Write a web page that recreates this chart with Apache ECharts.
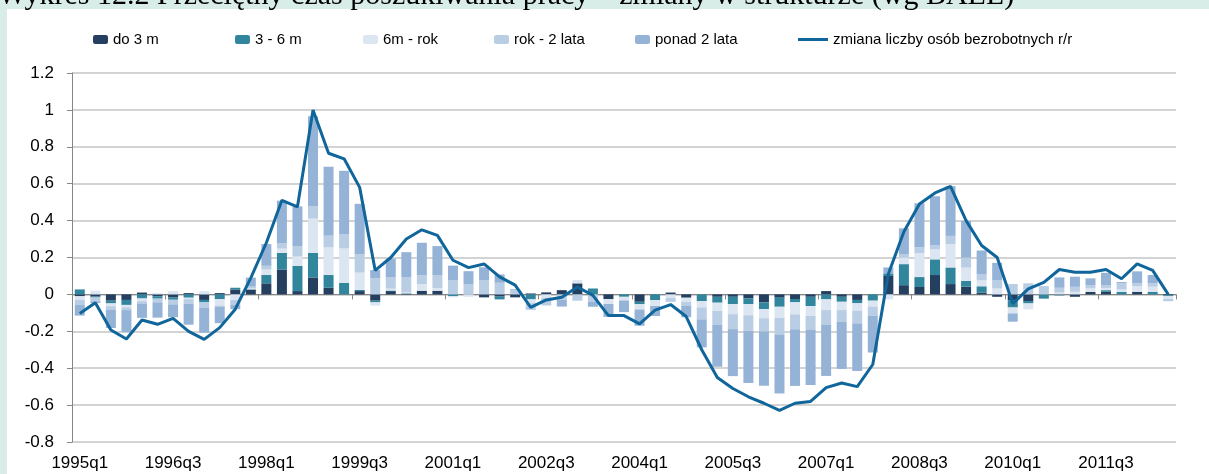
<!DOCTYPE html>
<html>
<head>
<meta charset="utf-8">
<script src="https://cdn.jsdelivr.net/npm/echarts@6/dist/echarts.min.js"></script>
<style>
html, body { margin: 0; padding: 0; background: #fff; }
#chart { width: 1209px; height: 474px; }
</style>
</head>
<body>
<div id="chart"></div>
<script>
// kwartały 1995q1 - 2012q3
const quarters = [
  '1995q1','1995q2','1995q3','1995q4','1996q1','1996q2','1996q3','1996q4',
  '1997q1','1997q2','1997q3','1997q4','1998q1','1998q2','1998q3','1998q4',
  '1999q1','1999q2','1999q3','1999q4','2000q1','2000q2','2000q3','2000q4',
  '2001q1','2001q2','2001q3','2001q4','2002q1','2002q2','2002q3','2002q4',
  '2003q1','2003q2','2003q3','2003q4','2004q1','2004q2','2004q3','2004q4',
  '2005q1','2005q2','2005q3','2005q4','2006q1','2006q2','2006q3','2006q4',
  '2007q1','2007q2','2007q3','2007q4','2008q1','2008q2','2008q3','2008q4',
  '2009q1','2009q2','2009q3','2009q4','2010q1','2010q2','2010q3','2010q4',
  '2011q1','2011q2','2011q3','2011q4','2012q1','2012q2','2012q3'
];

const do3m = [-0.01,-0.012,-0.034,-0.03,0.01,-0.01,-0.017,0.007,-0.03,0.007,
  0.027,0.027,0.06,0.135,0.018,0.092,0.036,0,0.018,-0.034,
  0.018,0.003,0.02,0.02,0,0,-0.016,-0.012,-0.016,0.005,
  0.011,0.023,0.06,0,-0.025,0,-0.04,0,0.01,-0.018,
  0,-0.013,-0.013,-0.022,-0.043,-0.018,-0.025,-0.013,0.018,-0.013,
  -0.03,0,0.1,0.05,0.04,0.105,0.056,0.042,0.01,-0.013,
  -0.031,-0.036,0,-0.003,-0.013,0.013,0.014,0,0.014,0,-0.005];

const m3to6 = [0.027,-0.005,-0.015,-0.027,-0.022,-0.013,-0.012,-0.018,-0.013,-0.025,
  0.009,0,0.045,0.09,0.137,0.133,0.069,0.063,0.006,-0.009,
  0.003,0.003,0,0,-0.01,0,0,-0.015,0,-0.027,
  0,0,0,0.032,0,-0.013,-0.013,-0.031,0,0,
  -0.036,-0.032,-0.04,-0.031,-0.036,-0.049,-0.018,-0.05,-0.027,-0.027,
  -0.018,-0.034,0.014,0.114,0.054,0.085,0.09,0.031,0.034,0,
  -0.04,-0.013,-0.023,-0.003,0,0,0.009,0.013,0,0.013,-0.005];

const m6toYear = [-0.02,0.02,-0.015,-0.013,-0.015,0.007,0.018,-0.008,0.018,-0.035,
  -0.03,0.005,0.03,0.023,0.05,0.186,0.15,0.186,0.094,-0.018,
  0.01,0.005,0.035,0.015,-0.006,-0.013,0,0,0,-0.02,
  -0.02,0,0.018,0,-0.027,-0.02,-0.029,-0.032,-0.02,-0.022,
  -0.034,-0.045,-0.054,-0.06,-0.05,-0.06,-0.065,-0.054,-0.058,-0.045,
  -0.04,-0.032,-0.027,0.035,0.13,0.054,0.126,0.072,0.032,0.032,
  -0.032,-0.032,0,0.01,0.014,0.02,0.012,0.014,0.03,0.029,-0.015];

const year1to2 = [-0.025,-0.02,-0.018,-0.015,-0.015,-0.02,-0.025,-0.025,-0.03,-0.008,
  -0.027,0.01,0.02,0.03,0.055,0.067,0.063,0.078,0.099,0.087,
  0.063,0.083,0.05,0.07,0.078,0.056,0.078,0.063,0.023,-0.037,
  -0.04,-0.03,-0.034,-0.04,0,0,0,0,-0.02,-0.023,
  -0.065,-0.076,-0.081,-0.085,-0.072,-0.09,-0.081,-0.076,-0.081,-0.063,
  -0.069,-0.049,0,0.02,0.032,0.023,0.045,0.054,0.032,0.045,
  0.056,0.06,0.045,0.026,0.027,0.018,0.015,0.033,0.018,0.018,-0.012];

const over2 = [-0.06,-0.01,-0.1,-0.12,-0.075,-0.083,-0.07,-0.113,-0.135,-0.088,
  -0.023,0.049,0.118,0.23,0.217,0.487,0.374,0.343,0.274,0.045,
  0.1,0.135,0.175,0.157,0.078,0.07,0.069,0.045,0.005,0,
  0,-0.036,0,-0.027,-0.07,-0.063,-0.088,-0.054,0,-0.061,
  -0.152,-0.226,-0.255,-0.282,-0.294,-0.32,-0.307,-0.298,-0.276,-0.256,
  -0.258,-0.2,0.032,0.139,0.238,0.265,0.27,0.2,0.13,0.094,
  -0.045,0,0,0.056,0.055,0.036,0.067,0.007,0.063,0.045,0];

const change = [-0.103,-0.045,-0.193,-0.242,-0.139,-0.162,-0.13,-0.2,-0.244,-0.18,
  -0.08,0.09,0.28,0.51,0.475,1.0,0.765,0.735,0.58,0.13,
  0.2,0.3,0.35,0.32,0.185,0.145,0.165,0.095,0.05,-0.07,
  -0.03,-0.015,0.04,-0.005,-0.115,-0.115,-0.16,-0.085,-0.055,-0.12,
  -0.3,-0.45,-0.51,-0.555,-0.59,-0.628,-0.59,-0.58,-0.505,-0.48,
  -0.5,-0.38,0.11,0.34,0.49,0.55,0.585,0.4,0.265,0.2,
  -0.05,0.03,0.065,0.135,0.12,0.12,0.135,0.085,0.165,0.13,0];

const names = ['do 3 m', '3 - 6 m', '6m - rok', 'rok - 2 lata', 'ponad 2 lata'];
const lineName = 'zmiana liczby osób bezrobotnych r/r';
const colors = ['#253F60', '#31859C', '#DCE6F2', '#B9CDE5', '#95B3D7'];
const legendLeft = [88, 230, 358, 489, 630];
const font = "'Liberation Sans', Arial, sans-serif";

var chartDom = document.getElementById('chart');
var myChart = echarts.init(chartDom);

const barData = [do3m, m3to6, m6toYear, year1to2, over2];
const seriesList = [];
barData.forEach(function (arr, i) {
  seriesList.push({
    name: names[i],
    type: 'bar',
    stack: 'total',
    barWidth: 10,
    itemStyle: { color: colors[i] },
    data: arr
  });
});
seriesList.push({
  name: lineName,
  type: 'line',
  symbol: 'none',
  lineStyle: { color: '#10659A', width: 3 },
  itemStyle: { color: '#10659A' },
  z: 5,
  data: change
});

const legends = names.map(function (n, i) {
  return {
    data: [n],
    left: legendLeft[i],
    top: 27,
    itemWidth: 15,
    itemHeight: 9,
    textStyle: { fontFamily: font, fontSize: 15, color: '#000' }
  };
});
legends.push({
  data: [{ name: lineName, icon: 'path://M0,0 L30,0 L30,3 L0,3 Z' }],
  left: 793,
  top: 27,
  itemWidth: 30,
  itemHeight: 3,
  textStyle: { fontFamily: font, fontSize: 15, color: '#000' }
});

var option = {
  backgroundColor: '#D9EDE8',
  animation: false,
  graphic: [
    {
      type: 'rect',
      z: -10,
      shape: { x: 7, y: 9, width: 1202, height: 465 },
      style: { fill: '#fff' }
    },
    {
      type: 'text',
      left: -2,
      top: -19,
      style: {
        text: 'Wykres 12.2 Przeciętny czas poszukiwania pracy – zmiany w strukturze (wg BAEL)',
        font: "30px 'Liberation Serif', 'Times New Roman', serif",
        fill: '#000'
      }
    }
  ],
  legend: legends,
  grid: { left: 72, right: 33, top: 73, bottom: 32 },
  xAxis: [
    {
      type: 'category',
      data: quarters,
      position: 'bottom',
      axisLine: { show: false, onZero: false },
      axisTick: { show: false },
      axisLabel: { interval: 5, fontFamily: font, fontSize: 17, color: '#000', margin: 13 }
    },
    {
      type: 'category',
      data: quarters,
      position: 'bottom',
      axisLine: { onZero: true, lineStyle: { color: '#868686', width: 1 } },
      axisTick: { show: true, interval: 5, length: 5, lineStyle: { color: '#868686' } },
      axisLabel: { show: false }
    }
  ],
  yAxis: {
    type: 'value',
    min: -0.8,
    max: 1.2,
    interval: 0.2,
    axisLine: { show: true, lineStyle: { color: '#868686' } },
    axisTick: { show: true, length: 5, lineStyle: { color: '#868686' } },
    axisLabel: {
      fontFamily: font, fontSize: 17, color: '#000', margin: 18,
      formatter: function (v) { return String(Math.round(v * 10) / 10); }
    },
    splitLine: { lineStyle: { color: '#C4C4C4', width: 1.5 } }
  },
  series: seriesList
};

myChart.setOption(option);
</script>
</body>
</html>
